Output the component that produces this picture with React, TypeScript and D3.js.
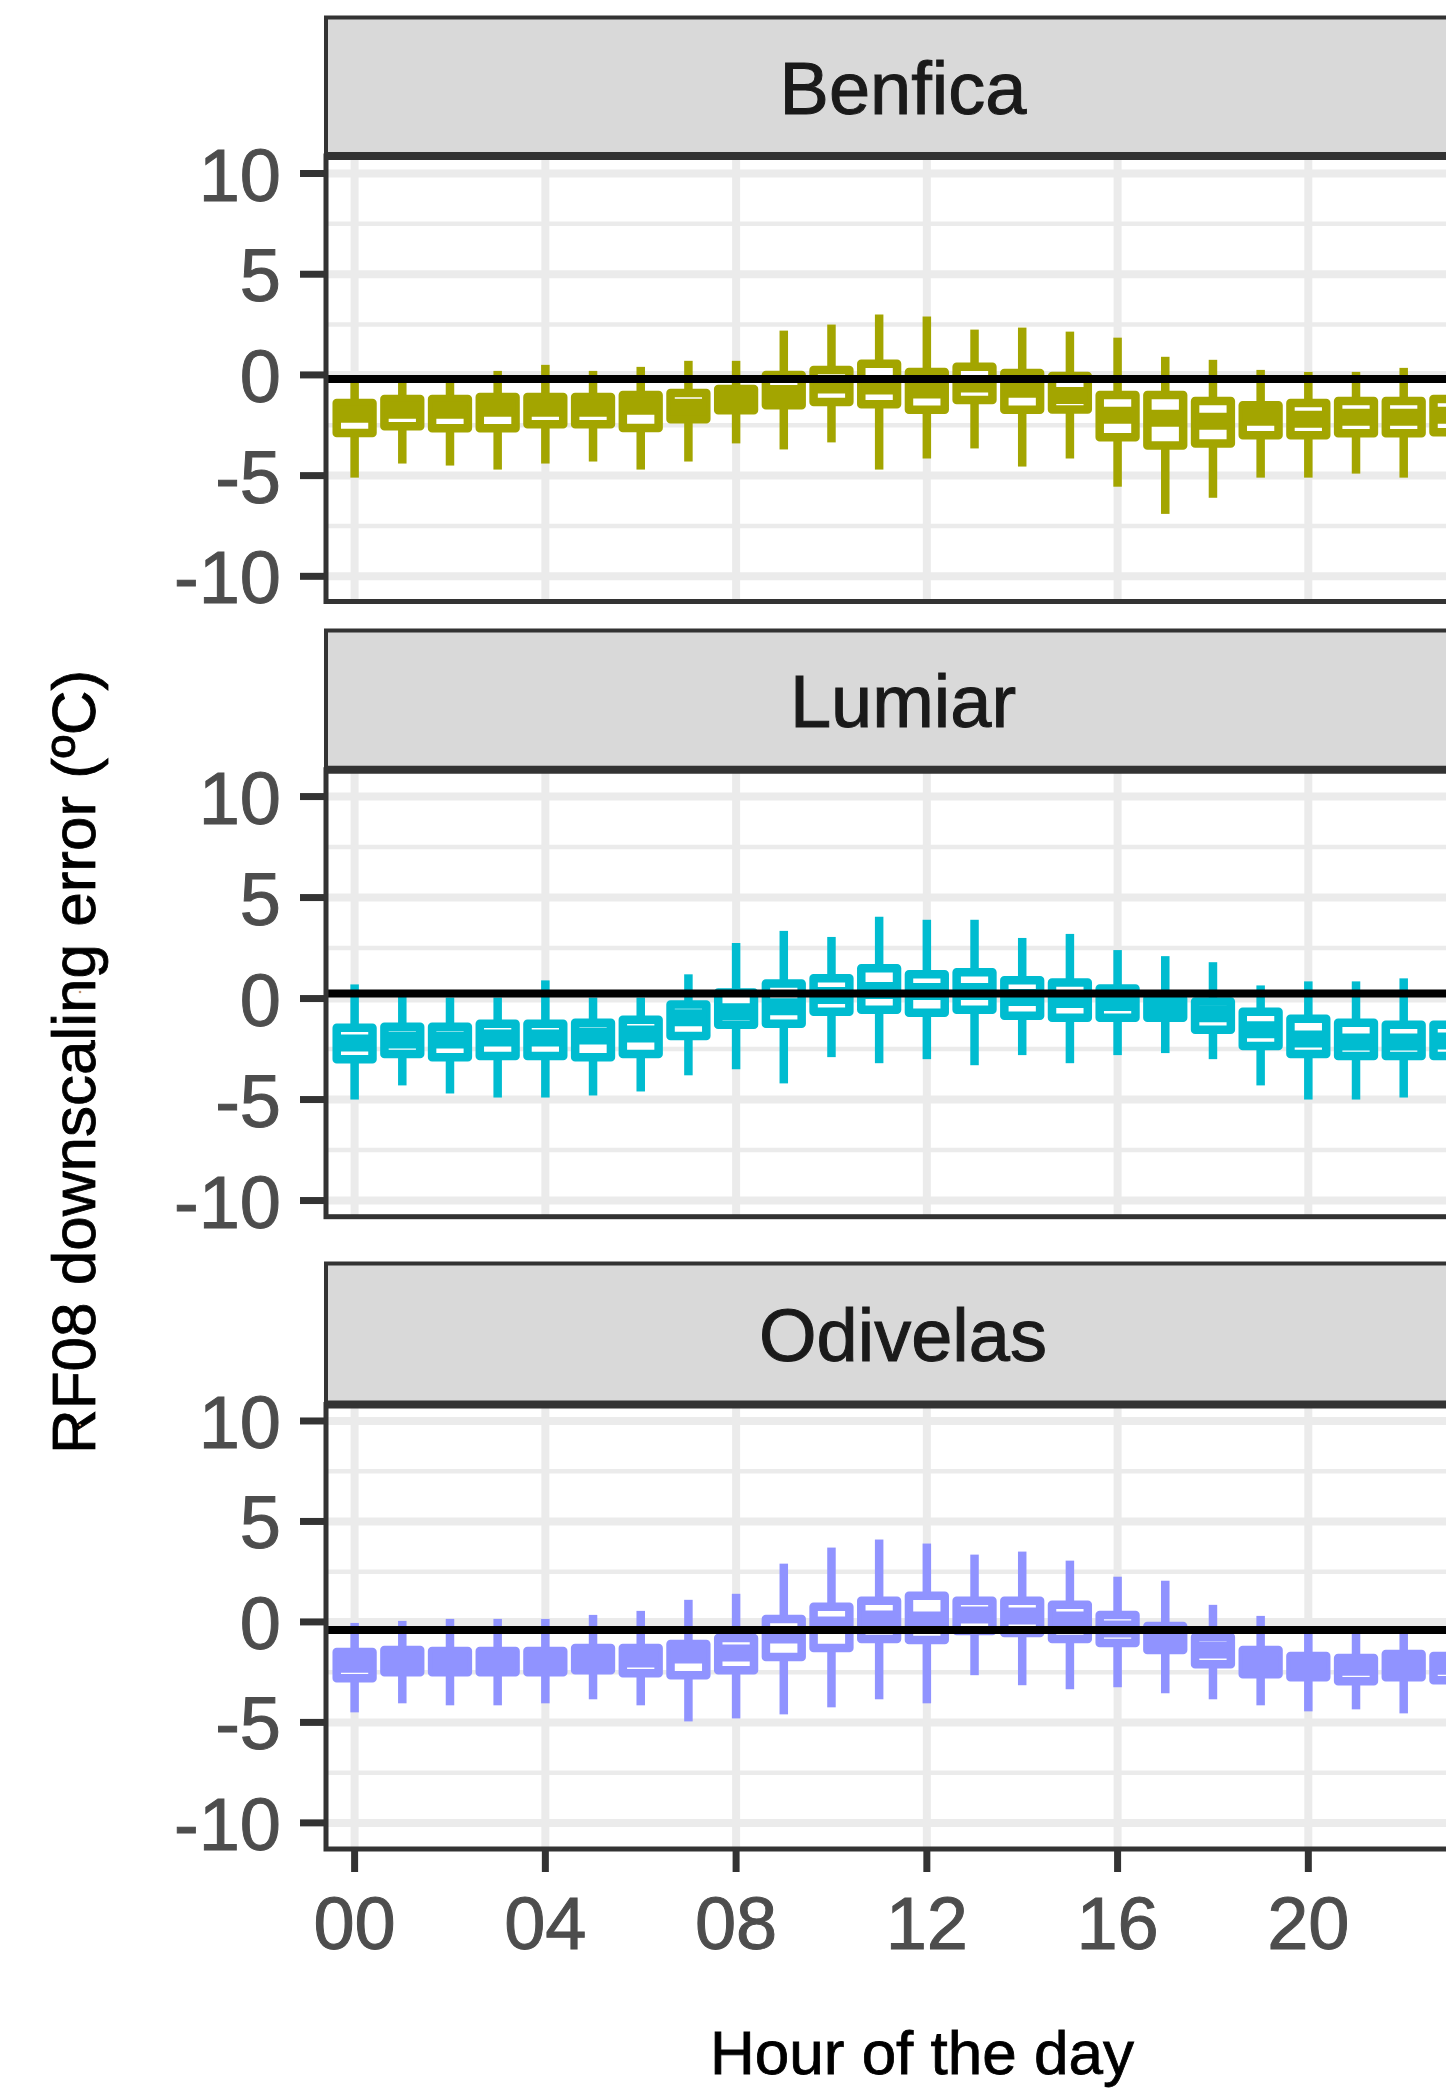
import React from "react";
import * as d3 from "d3";

// ---------- data ----------
const hourLabels = ["00","01","02","03","04","05","06","07","08","09","10","11","12","13","14","15","16","17","18","19","20","21","22","23"];
const xTickHours = [0, 4, 8, 12, 16, 20];
const xTickLabels = ["00", "04", "08", "12", "16", "20"];
const yMajorTicks = [-10, -5, 0, 5, 10];
const yMinorTicks = [-7.5, -2.5, 2.5, 7.5];
const yTickLabels = ["-10", "-5", "0", "5", "10"];

const stationNames = ["Benfica", "Lumiar", "Odivelas"];
const stationColors = ["#A3A500", "#00BCD0", "#9093FF"];
const referenceLines = [-0.2, 0.25, -0.4];

const benficaLow  = [-5.1,-4.4,-4.5,-4.7,-4.4,-4.3,-4.7,-4.3,-3.4,-3.7,-3.35,-4.7,-4.15,-3.65,-4.55,-4.15,-5.55,-6.9,-6.1,-5.1,-5.1,-4.9,-5.1,-5.0];
const benficaQ1   = [-2.88,-2.55,-2.65,-2.65,-2.45,-2.45,-2.64,-2.2,-1.75,-1.5,-1.35,-1.45,-1.73,-1.25,-1.73,-1.72,-3.1,-3.5,-3.4,-3.0,-3.0,-2.9,-2.9,-2.85];
const benficaMed  = [-1.95,-1.75,-1.75,-1.65,-1.65,-1.65,-1.55,-1.6,-1.2,-0.92,-0.5,-0.55,-0.75,-0.45,-0.71,-1.02,-2.0,-2.15,-2.3,-2.1,-2.2,-2.1,-2.1,-2.0];
const benficaQ3   = [-1.4,-1.2,-1.2,-1.1,-1.1,-1.1,-1.0,-0.9,-0.7,0.0,0.25,0.55,0.15,0.4,0.1,-0.05,-1.0,-1.0,-1.3,-1.5,-1.4,-1.3,-1.3,-1.2];
const benficaHigh = [-0.3,-0.3,-0.3,0.2,0.5,0.2,0.4,0.7,0.7,2.2,2.5,3.0,2.9,2.25,2.35,2.15,1.85,0.9,0.75,0.25,0.15,0.15,0.35,0.2];

const lumiarLow  = [-5.0,-4.3,-4.7,-4.9,-4.9,-4.8,-4.6,-3.8,-3.5,-4.2,-2.9,-3.2,-3.0,-3.3,-2.8,-3.2,-2.8,-2.7,-3.0,-4.3,-5.0,-5.0,-4.9,-4.9];
const lumiarQ1   = [-3.0,-2.75,-2.9,-2.85,-2.85,-2.9,-2.75,-1.85,-1.3,-1.25,-0.65,-0.55,-0.7,-0.55,-0.85,-0.95,-0.95,-0.95,-1.55,-2.35,-2.75,-2.85,-2.85,-2.85];
const lumiarMed  = [-2.2,-2.05,-2.05,-1.95,-1.95,-1.85,-1.75,-0.95,-0.65,-0.4,0.15,0.4,0.35,0.35,0.05,-0.05,-0.2,-0.5,-0.75,-1.55,-2.0,-2.15,-2.15,-2.1];
const lumiarQ3   = [-1.45,-1.4,-1.4,-1.25,-1.25,-1.2,-1.05,-0.3,0.3,0.75,1.0,1.5,1.2,1.3,0.9,0.8,0.5,0.0,-0.15,-0.65,-1.0,-1.2,-1.3,-1.3];
const lumiarHigh = [0.7,0.1,0.05,0.05,0.9,0.05,0.05,1.2,2.75,3.35,3.05,4.05,3.9,3.9,3.0,3.2,2.4,2.1,1.8,0.65,0.85,0.85,1.0,0.9];

const odivelasLow  = [-4.5,-4.05,-4.15,-4.15,-4.05,-3.85,-4.15,-4.95,-4.8,-4.6,-4.25,-3.85,-4.05,-2.65,-3.15,-3.35,-3.25,-3.55,-3.85,-4.15,-4.45,-4.35,-4.55,-4.6];
const odivelasQ1   = [-2.8,-2.5,-2.5,-2.5,-2.5,-2.4,-2.55,-2.65,-2.4,-1.75,-1.3,-0.85,-0.9,-0.45,-0.55,-0.85,-1.05,-1.4,-2.1,-2.6,-2.75,-2.95,-2.75,-2.9];
const odivelasMed  = [-2.1,-1.95,-1.95,-1.95,-1.95,-1.85,-1.85,-1.65,-1.55,-0.65,-0.15,0.15,0.1,0.35,0.3,0.1,-0.35,-0.8,-1.4,-2.0,-2.2,-2.25,-2.15,-2.2];
const odivelasQ3   = [-1.5,-1.4,-1.45,-1.45,-1.45,-1.3,-1.3,-1.1,-0.8,0.15,0.75,1.05,1.3,1.05,1.05,0.85,0.35,-0.2,-0.75,-1.4,-1.7,-1.8,-1.6,-1.7];
const odivelasHigh = [-0.05,0.05,0.15,0.15,0.15,0.35,0.55,1.1,1.4,2.9,3.7,4.1,3.9,3.35,3.5,3.05,2.25,2.05,0.85,0.3,-0.6,-0.55,-0.55,-0.5];

const lowSeries = [benficaLow, lumiarLow, odivelasLow];
const q1Series = [benficaQ1, lumiarQ1, odivelasQ1];
const medSeries = [benficaMed, lumiarMed, odivelasMed];
const q3Series = [benficaQ3, lumiarQ3, odivelasQ3];
const highSeries = [benficaHigh, lumiarHigh, odivelasHigh];

// ---------- layout ----------
const W = 1446;
const H = 2089;
const PANEL_LEFT = 326;
const PANEL_RIGHT = 1480;
const layouts = [
  { stripTop: 17.5, panelTop: 156, panelBottom: 601.5, domain: [-11.25, 10.87] },
  { stripTop: 630.5, panelTop: 769.7, panelBottom: 1216.7, domain: [-10.8, 11.33] },
  { stripTop: 1263.5, panelTop: 1404.5, panelBottom: 1849, domain: [-11.3, 10.82] },
];

const FONT = "'Liberation Sans', Arial, Helvetica, sans-serif";
const GRID = "#EBEBEB";
const DARK = "#333333";

const x = d3.scaleLinear().domain([-0.6, 23.6]).range([PANEL_LEFT, PANEL_RIGHT]);
const step = x(1) - x(0);
const boxW = step * 0.75;

const BOX_STROKE = 8.5;
const MEDIAN_STROKE = 17;

function Panel({ idx }: { idx: number }) {
  const L = layouts[idx];
  const y = d3.scaleLinear().domain(L.domain).range([L.panelBottom, L.panelTop]);
  const color = stationColors[idx];
  const pw = PANEL_RIGHT - PANEL_LEFT;
  const isBottom = idx === layouts.length - 1;
  const stripMid = (L.stripTop + L.panelTop) / 2;
  return (
    <g>
      <rect x={PANEL_LEFT} y={L.panelTop} width={pw} height={L.panelBottom - L.panelTop} fill="#FFFFFF" />
      {yMinorTicks.map((v) => (
        <line key={"mi" + v} x1={PANEL_LEFT} x2={PANEL_RIGHT} y1={y(v)} y2={y(v)} stroke={GRID} strokeWidth={4.5} />
      ))}
      {yMajorTicks.map((v) => (
        <line key={"ma" + v} x1={PANEL_LEFT} x2={PANEL_RIGHT} y1={y(v)} y2={y(v)} stroke={GRID} strokeWidth={8} />
      ))}
      {xTickHours.map((h) => (
        <line key={"vx" + h} x1={x(h)} x2={x(h)} y1={L.panelTop} y2={L.panelBottom} stroke={GRID} strokeWidth={8} />
      ))}
      {hourLabels.map((lab, i) => {
        const cx = x(i);
        const lo = lowSeries[idx][i];
        const q1 = q1Series[idx][i];
        const md = medSeries[idx][i];
        const q3 = q3Series[idx][i];
        const hi = highSeries[idx][i];
        return (
          <g key={lab}>
            <line x1={cx} x2={cx} y1={y(q3)} y2={y(hi)} stroke={color} strokeWidth={BOX_STROKE} />
            <line x1={cx} x2={cx} y1={y(q1)} y2={y(lo)} stroke={color} strokeWidth={BOX_STROKE} />
            <rect x={cx - boxW / 2} y={y(q3)} width={boxW} height={y(q1) - y(q3)} fill="#FFFFFF" stroke={color} strokeWidth={BOX_STROKE} strokeLinejoin="round" />
            <line x1={cx - boxW / 2} x2={cx + boxW / 2} y1={y(md)} y2={y(md)} stroke={color} strokeWidth={MEDIAN_STROKE} />
          </g>
        );
      })}
      <line x1={PANEL_LEFT} x2={PANEL_RIGHT} y1={y(referenceLines[idx])} y2={y(referenceLines[idx])} stroke="#000000" strokeWidth={8} />
      <rect x={PANEL_LEFT} y={L.panelTop} width={pw} height={L.panelBottom - L.panelTop} fill="none" stroke={DARK} strokeWidth={5} />
      <rect x={PANEL_LEFT} y={L.stripTop} width={pw} height={L.panelTop - L.stripTop} fill="#D9D9D9" stroke={DARK} strokeWidth={4} />
      <line x1={PANEL_LEFT} x2={PANEL_RIGHT} y1={L.panelTop} y2={L.panelTop} stroke={DARK} strokeWidth={8} />
      <text x={(PANEL_LEFT + PANEL_RIGHT) / 2} y={stripMid + 27} textAnchor="middle" fontFamily={FONT} fontSize={74} fill="#1A1A1A" stroke="#1A1A1A" strokeWidth={1}>
        {stationNames[idx]}
      </text>
      {yMajorTicks.map((v, k) => (
        <g key={"yt" + v}>
          <line x1={300} x2={PANEL_LEFT} y1={y(v)} y2={y(v)} stroke={DARK} strokeWidth={7} />
          <text x={281} y={y(v) + 27} textAnchor="end" fontFamily={FONT} fontSize={74} fill="#4D4D4D" stroke="#4D4D4D" strokeWidth={1}>
            {yTickLabels[k]}
          </text>
        </g>
      ))}
      {isBottom &&
        xTickHours.map((h, k) => (
          <g key={"xt" + h}>
            <line x1={x(h)} x2={x(h)} y1={L.panelBottom} y2={L.panelBottom + 23} stroke={DARK} strokeWidth={7} />
            <text x={x(h)} y={1949} textAnchor="middle" fontFamily={FONT} fontSize={74} fill="#4D4D4D" stroke="#4D4D4D" strokeWidth={1}>
              {xTickLabels[k]}
            </text>
          </g>
        ))}
    </g>
  );
}

export default function App() {
  return (
    <svg
      width={W}
      height={H}
      viewBox={`0 0 ${W} ${H}`}
      style={{ position: "absolute", left: 0, top: 0, background: "#FFFFFF" }}
    >
      <rect x={0} y={0} width={W} height={H} fill="#FFFFFF" />
      {layouts.map((_, i) => (
        <Panel key={i} idx={i} />
      ))}
      <text
        transform={`translate(95, 1062) rotate(-90)`}
        textAnchor="middle"
        fontFamily={FONT}
        fontSize={62}
        fill="#000000"
        stroke="#000000"
        strokeWidth={0.8}
      >
        RF08 downscaling error (ºC)
      </text>
      <text x={922} y={2074} textAnchor="middle" fontFamily={FONT} fontSize={62} fill="#000000" stroke="#000000" strokeWidth={0.8}>
        Hour of the day
      </text>
      <circle cx={80} cy={992} r={1.3} fill="#C09070" />
      <circle cx={80} cy={1425} r={1.3} fill="#C09070" />
    </svg>
  );
}
